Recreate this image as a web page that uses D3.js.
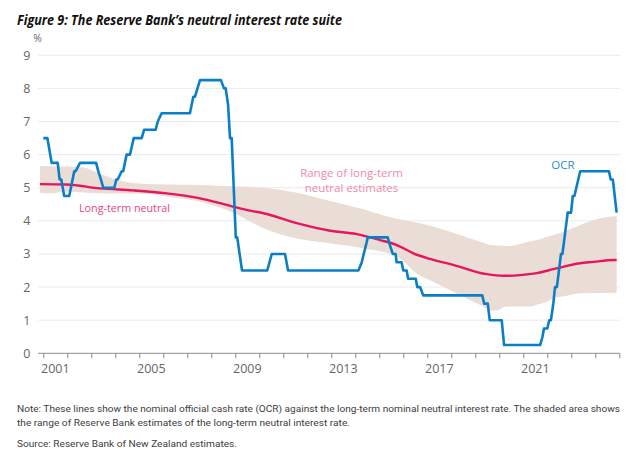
<!DOCTYPE html>
<html>
<head>
<meta charset="utf-8">
<script src="https://cdn.jsdelivr.net/npm/d3@7/dist/d3.min.js"></script>
<style>
  html, body { margin: 0; padding: 0; background: #ffffff; }
  svg { display: block; }
</style>
</head>
<body>
<script>
// ---------- DATA (decimal year, value %) ----------
const ocr = [
  [2001.00,6.5],[2001.17,6.5],[2001.35,5.75],[2001.60,5.75],[2001.68,5.25],[2001.75,5.25],
  [2001.87,4.75],[2002.08,4.75],[2002.29,5.5],[2002.35,5.5],[2002.53,5.75],[2003.20,5.75],
  [2003.29,5.5],[2003.40,5.25],[2003.50,5.0],[2003.96,5.0],[2004.04,5.25],[2004.10,5.25],
  [2004.27,5.5],[2004.33,5.5],[2004.47,6.0],[2004.61,6.0],[2004.77,6.5],[2005.10,6.5],
  [2005.20,6.75],[2005.68,6.75],[2005.77,7.0],[2005.93,7.25],[2007.11,7.25],[2007.25,7.75],
  [2007.32,7.75],[2007.53,8.25],[2008.40,8.25],[2008.53,8.0],[2008.60,8.0],[2008.70,7.5],
  [2008.78,6.5],[2008.85,6.5],[2009.02,3.5],[2009.08,3.5],[2009.28,2.5],[2010.33,2.5],
  [2010.52,3.0],[2011.07,3.0],[2011.20,2.5],[2014.13,2.5],[2014.27,2.75],[2014.35,3.0],
  [2014.44,3.25],[2014.52,3.5],[2015.35,3.5],[2015.45,3.25],[2015.56,3.0],[2015.68,3.0],
  [2015.72,2.75],[2015.93,2.75],[2016.00,2.5],[2016.14,2.5],[2016.20,2.25],[2016.52,2.25],
  [2016.58,2.0],[2016.70,2.0],[2016.83,1.75],[2019.29,1.75],[2019.37,1.5],[2019.52,1.5],
  [2019.60,1.0],[2020.10,1.0],[2020.20,0.25],[2021.70,0.25],[2021.80,0.5],[2021.86,0.75],
  [2022.00,0.75],[2022.08,1.0],[2022.15,1.0],[2022.25,1.5],[2022.32,2.0],[2022.40,2.0],
  [2022.57,3.0],[2022.63,3.0],[2022.72,3.5],[2022.85,4.25],[2022.99,4.25],[2023.06,4.75],
  [2023.13,4.75],[2023.37,5.5],[2024.57,5.5],[2024.64,5.25],[2024.73,5.25],[2024.89,4.25]
];

const neutral = [
  [2000.86,5.11],[2001.97,5.10],[2003.36,4.98],[2004.74,4.92],[2006.14,4.83],[2007.53,4.68],
  [2008.23,4.56],[2008.90,4.43],[2009.61,4.31],[2010.17,4.23],[2011.56,3.93],[2012.95,3.70],
  [2014.06,3.60],[2015.03,3.42],[2015.73,3.27],[2016.42,3.02],[2017.11,2.85],[2018.08,2.67],
  [2019.48,2.39],[2020.17,2.34],[2020.86,2.36],[2021.56,2.42],[2022.25,2.54],[2023.36,2.72],
  [2023.92,2.76],[2024.75,2.82],[2024.89,2.82]
];

const bandUpper = [
  [2000.86,5.66],[2001.97,5.64],[2002.67,5.61],[2003.36,5.42],[2004.06,5.24],[2004.75,5.14],
  [2005.45,5.11],[2007.53,5.08],[2009.61,5.03],[2010.17,5.00],[2011.56,4.85],[2012.95,4.60],
  [2014.33,4.35],[2015.73,4.06],[2016.70,3.93],[2018.08,3.64],[2019.61,3.27],[2020.31,3.24],
  [2021.56,3.42],[2022.67,3.67],[2023.64,3.95],[2024.20,4.08],[2024.89,4.15]
];

const bandLower = [
  [2000.86,4.85],[2001.28,4.83],[2001.97,4.88],[2003.36,4.83],[2005.45,4.81],[2006.14,4.73],
  [2007.53,4.58],[2008.23,4.43],[2008.90,4.25],[2009.61,3.98],[2010.17,3.78],[2011.56,3.47],
  [2012.95,3.32],[2014.33,3.17],[2015.73,2.92],[2016.69,2.35],[2018.08,1.86],[2019.33,1.41],
  [2019.61,1.31],[2019.89,1.29],[2020.31,1.41],[2021.28,1.41],[2021.98,1.56],[2022.25,1.66],
  [2022.95,1.76],[2023.36,1.81],[2024.89,1.83]
];

const yTicks = [0,1,2,3,4,5,6,7,8,9];
const yearTicks = d3.range(2001, 2026);
const yearLabels = [2001, 2005, 2009, 2013, 2017, 2021];

const titleText = "Figure 9: The Reserve Bank\u2019s neutral interest rate suite";
const noteLines = [
  "Note: These lines show the nominal official cash rate (OCR) against the long-term nominal neutral interest rate. The shaded area shows",
  "the range of Reserve Bank estimates of the long-term neutral interest rate."
];
const sourceText = "Source: Reserve Bank of New Zealand estimates.";

// ---------- LAYOUT ----------
const W = 642, H = 466;
const FONT = "'Open Sans', 'Noto Sans', sans-serif";
const NOTEFONT = "Roboto, 'Noto Sans', sans-serif";
const svg = d3.select("body").append("svg").attr("width", W).attr("height", H);

const x = d3.scaleLinear().domain([2001, 2025]).range([43.3, 619.3]);
const y = d3.scaleLinear().domain([0, 9]).range([353.3, 55.3]);
const axisLeft = 38, axisRight = 620;

// Title
svg.append("text").attr("x", 17).attr("y", 25)
  .attr("font-family", FONT).attr("font-size", 13.5).attr("font-weight", 700)
  .attr("font-style", "italic").attr("fill", "#111111")
  .attr("textLength", 325).attr("lengthAdjust", "spacingAndGlyphs")
  .text(titleText);

// % unit
svg.append("text").attr("x", 37.5).attr("y", 42).attr("text-anchor", "middle")
  .attr("font-family", FONT).attr("font-size", 10.5).attr("fill", "#6b6b6b").text("%");

// Gridlines
svg.append("g").selectAll("line").data(yTicks.filter(d => d > 0)).join("line")
  .attr("x1", axisLeft).attr("x2", axisRight)
  .attr("y1", d => y(d)).attr("y2", d => y(d))
  .attr("stroke", "#ebebeb").attr("stroke-width", 1);

// Y tick labels
svg.append("g").selectAll("text").data(yTicks).join("text")
  .attr("x", 30.5).attr("y", d => y(d) + 4.5).attr("text-anchor", "end")
  .attr("font-family", FONT).attr("font-size", 12.5).attr("fill", "#666666")
  .text(d => d);

// Band
const area = d3.area()
  .x(d => x(d[0])).y0(d => y(d[1])).y1(d => y(d[2]))
  .curve(d3.curveMonotoneX);
const lowerFn = d3.scaleLinear().domain(bandLower.map(d => d[0])).range(bandLower.map(d => d[1]));
const upperFn = d3.scaleLinear().domain(bandUpper.map(d => d[0])).range(bandUpper.map(d => d[1]));
const bandData = bandUpper.map(d => [d[0], lowerFn(d[0]), d[1]]);
bandLower.forEach(d => {
  if (!bandData.find(b => Math.abs(b[0] - d[0]) < 1e-6)) bandData.push([d[0], d[1], upperFn(d[0])]);
});
bandData.sort((a, b) => a[0] - b[0]);
svg.append("path").datum(bandData).attr("d", area)
  .attr("fill", "#eaddd5").attr("stroke", "none");

// X axis line and ticks
const xAxis = d3.axisBottom(x).tickValues(yearTicks).tickSize(5).tickFormat("");
const gx = svg.append("g").attr("transform", `translate(0,${y(0)})`).call(xAxis);
gx.select(".domain").remove();
gx.selectAll(".tick line").attr("stroke", "#8c8c8c");
svg.append("line").attr("x1", axisLeft).attr("x2", axisRight)
  .attr("y1", y(0)).attr("y2", y(0)).attr("stroke", "#8c8c8c").attr("stroke-width", 1);

svg.append("g").selectAll("text").data(yearLabels).join("text")
  .attr("x", d => x(d + 0.5)).attr("y", 373).attr("text-anchor", "middle")
  .attr("font-family", FONT).attr("font-size", 12.5).attr("fill", "#666666")
  .text(d => d);

// Neutral line
svg.append("path").datum(neutral)
  .attr("d", d3.line().x(d => x(d[0])).y(d => y(d[1])).curve(d3.curveMonotoneX))
  .attr("fill", "none").attr("stroke", "#e5165e").attr("stroke-width", 2.4);

// OCR line
svg.append("path").datum(ocr).attr("d", d3.line().x(d => x(d[0])).y(d => y(d[1])))
  .attr("fill", "none").attr("stroke", "#0b7fc6").attr("stroke-width", 2.6)
  .attr("stroke-linejoin", "round");

// Labels
svg.append("text").attr("x", 79).attr("y", 212)
  .attr("font-family", FONT).attr("font-size", 11.5).attr("fill", "#e6447f")
  .attr("textLength", 91).attr("lengthAdjust", "spacingAndGlyphs")
  .text("Long-term neutral");
svg.append("text").attr("x", 351.5).attr("y", 177).attr("text-anchor", "middle")
  .attr("font-family", FONT).attr("font-size", 11.5).attr("fill", "#f08aa6")
  .text("Range of long-term");
svg.append("text").attr("x", 351.5).attr("y", 192).attr("text-anchor", "middle")
  .attr("font-family", FONT).attr("font-size", 11.5).attr("fill", "#f08aa6")
  .text("neutral estimates");
svg.append("text").attr("x", 563).attr("y", 169).attr("text-anchor", "middle")
  .attr("font-family", FONT).attr("font-size", 11.5).attr("fill", "#2b8ccc")
  .text("OCR");

// Notes
svg.append("text").attr("x", 17).attr("y", 412)
  .attr("font-family", NOTEFONT).attr("font-size", 9.2).attr("fill", "#404040")
  .attr("textLength", 603).attr("lengthAdjust", "spacingAndGlyphs")
  .text(noteLines[0]);
svg.append("text").attr("x", 17).attr("y", 426)
  .attr("font-family", NOTEFONT).attr("font-size", 9.2).attr("fill", "#404040")
  .attr("textLength", 333).attr("lengthAdjust", "spacingAndGlyphs")
  .text(noteLines[1]);
svg.append("text").attr("x", 17).attr("y", 447)
  .attr("font-family", NOTEFONT).attr("font-size", 9.2).attr("fill", "#404040")
  .attr("textLength", 220).attr("lengthAdjust", "spacingAndGlyphs")
  .text(sourceText);
</script>
</body>
</html>
